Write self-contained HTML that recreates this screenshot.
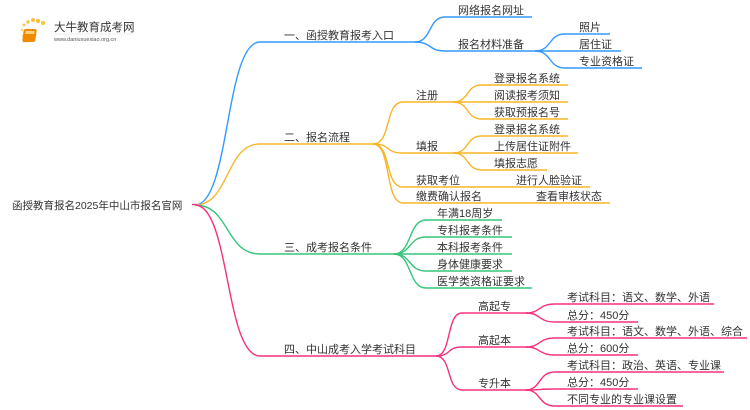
<!DOCTYPE html>
<html><head><meta charset="utf-8"><style>
html,body{margin:0;padding:0;background:#fff;width:750px;height:410px;overflow:hidden}
svg text{font-family:"Liberation Sans","Noto Sans CJK SC",sans-serif;font-size:11px;fill:#333}
</style></head><body>
<svg width="750" height="410" viewBox="0 0 750 410" xmlns="http://www.w3.org/2000/svg">
<!-- logo -->
<g>
<circle cx="22" cy="30" r="1.3" fill="#fbd36b"/><circle cx="23" cy="36" r="1.3" fill="#fbd36b"/><circle cx="24" cy="25" r="1.5" fill="#fbc94a"/>
<circle cx="28" cy="22" r="1.7" fill="#f9c23a"/><circle cx="33" cy="20" r="1.9" fill="#f9b92a"/><circle cx="38" cy="21" r="2" fill="#f9b92a"/><circle cx="43" cy="23" r="2" fill="#f9c23a"/><circle cx="24" cy="42" r="1" fill="#fde4a0"/>
<rect x="28" y="29" width="13" height="13" rx="2" fill="#f08a00" transform="skewX(-8)"/>
<rect x="30" y="31" width="9" height="3" fill="#fcd27a" transform="skewX(-8)"/>
<text x="54" y="31" style="font-size:11.5px;fill:#333">大牛教育成考网</text>
<text x="54" y="41" style="font-size:5.5px;fill:#555">www.daniuxuexiao.org.cn</text>
<line x1="54" y1="34" x2="132" y2="34" stroke="#e6e6e6" stroke-width="0.7"/>
</g>
<g fill="none" stroke-width="1.4">
<!-- root -->
<text x="12" y="209" style="font-size:10.5px">函授教育报名2025年中山市报名官网</text>
<line x1="192" y1="204.5" x2="196" y2="204.5" stroke="#f5317f"/>
<!-- blue -->
<g stroke="#3399ff">
<path d="M195,205 C230,205 225,42 260,42 L417,42"/>
<path d="M415,42 C432,42 428,17 445,17 L532,17"/>
<path d="M415,42 C432,42 428,51 445,51 L537,51"/>
<path d="M535,51 C552,51 548,34 565,34 L610,34"/>
<path d="M535,51 C552,51 548,51 565,51 L621,51"/>
<path d="M535,51 C552,51 548,68 565,68 L642,68"/>
</g>
<!-- orange -->
<g stroke="#f9b526">
<path d="M195,205 C230,205 225,144 260,144 L375,144"/>
<path d="M373,144 C392,144 384,102 403,102 L455,102"/>
<path d="M373,144 C392,144 384,153 403,153 L455,153"/>
<path d="M373,144 C392,144 384,187 403,187 L590,187"/>
<path d="M373,144 C392,144 384,203 403,203 L610,203"/>
<path d="M453,102 C470,102 465,85 482,85 L568,85"/>
<path d="M453,102 C470,102 465,102 482,102 L568,102"/>
<path d="M453,102 C470,102 465,119 482,119 L568,119"/>
<path d="M453,153 C470,153 465,136 482,136 L568,136"/>
<path d="M453,153 C470,153 465,153 482,153 L578,153"/>
<path d="M453,153 C470,153 465,170 482,170 L547,170"/>
</g>
<!-- green -->
<g stroke="#36c57a">
<path d="M195,205 C230,205 225,254 260,254 L396,254"/>
<path d="M394,254 C412,254 408,220 426,220 L502,220"/>
<path d="M394,254 C412,254 408,237 426,237 L512,237"/>
<path d="M394,254 C412,254 408,254 426,254 L512,254"/>
<path d="M394,254 C412,254 408,271 426,271 L512,271"/>
<path d="M394,254 C412,254 408,288 426,288 L532,288"/>
</g>
<!-- pink -->
<g stroke="#f5317f">
<path d="M195,205 C230,205 225,356 260,356 L438,356"/>
<path d="M436,356 C452,356 446,313 462,313 L528,313"/>
<path d="M436,356 C452,356 446,347 462,347 L528,347"/>
<path d="M436,356 C452,356 446,390 462,390 L528,390"/>
<path d="M526,313 C541,313 538,304 555,304 L714,304"/>
<path d="M526,313 C541,313 538,322 555,322 L638,322"/>
<path d="M526,347 C541,347 538,338 555,338 L747,338"/>
<path d="M526,347 C541,347 538,355 555,355 L638,355"/>
<path d="M526,390 C541,390 538,372 555,372 L724,372"/>
<path d="M526,390 C541,390 538,389 555,389 L638,389"/>
<path d="M526,390 C541,390 538,406 555,406 L683,406"/>
</g>
</g>
<!-- labels -->
<text x="284" y="39">一、函授教育报考入口</text>
<text x="458" y="14">网络报名网址</text>
<text x="458" y="48">报名材料准备</text>
<text x="579" y="31">照片</text>
<text x="579" y="48">居住证</text>
<text x="579" y="65">专业资格证</text>

<text x="284" y="141">二、报名流程</text>
<text x="416" y="99">注册</text>
<text x="416" y="150">填报</text>
<text x="416" y="184">获取考位</text>
<text x="416" y="200">缴费确认报名</text>
<text x="494" y="82">登录报名系统</text>
<text x="494" y="99">阅读报考须知</text>
<text x="494" y="116">获取预报名号</text>
<text x="494" y="133">登录报名系统</text>
<text x="494" y="150">上传居住证附件</text>
<text x="494" y="167">填报志愿</text>
<text x="516" y="184">进行人脸验证</text>
<text x="536" y="200">查看审核状态</text>

<text x="284" y="251">三、成考报名条件</text>
<text x="437" y="217">年满18周岁</text>
<text x="437" y="234">专科报考条件</text>
<text x="437" y="251">本科报考条件</text>
<text x="437" y="268">身体健康要求</text>
<text x="437" y="285">医学类资格证要求</text>

<text x="284" y="353">四、中山成考入学考试科目</text>
<text x="478" y="310">高起专</text>
<text x="478" y="344">高起本</text>
<text x="478" y="387">专升本</text>
<text x="567" y="301">考试科目：语文、数学、外语</text>
<text x="567" y="319">总分：450分</text>
<text x="567" y="335">考试科目：语文、数学、外语、综合</text>
<text x="567" y="352">总分：600分</text>
<text x="567" y="369">考试科目：政治、英语、专业课</text>
<text x="567" y="386">总分：450分</text>
<text x="567" y="403">不同专业的专业课设置</text>
</svg>
</body></html>
